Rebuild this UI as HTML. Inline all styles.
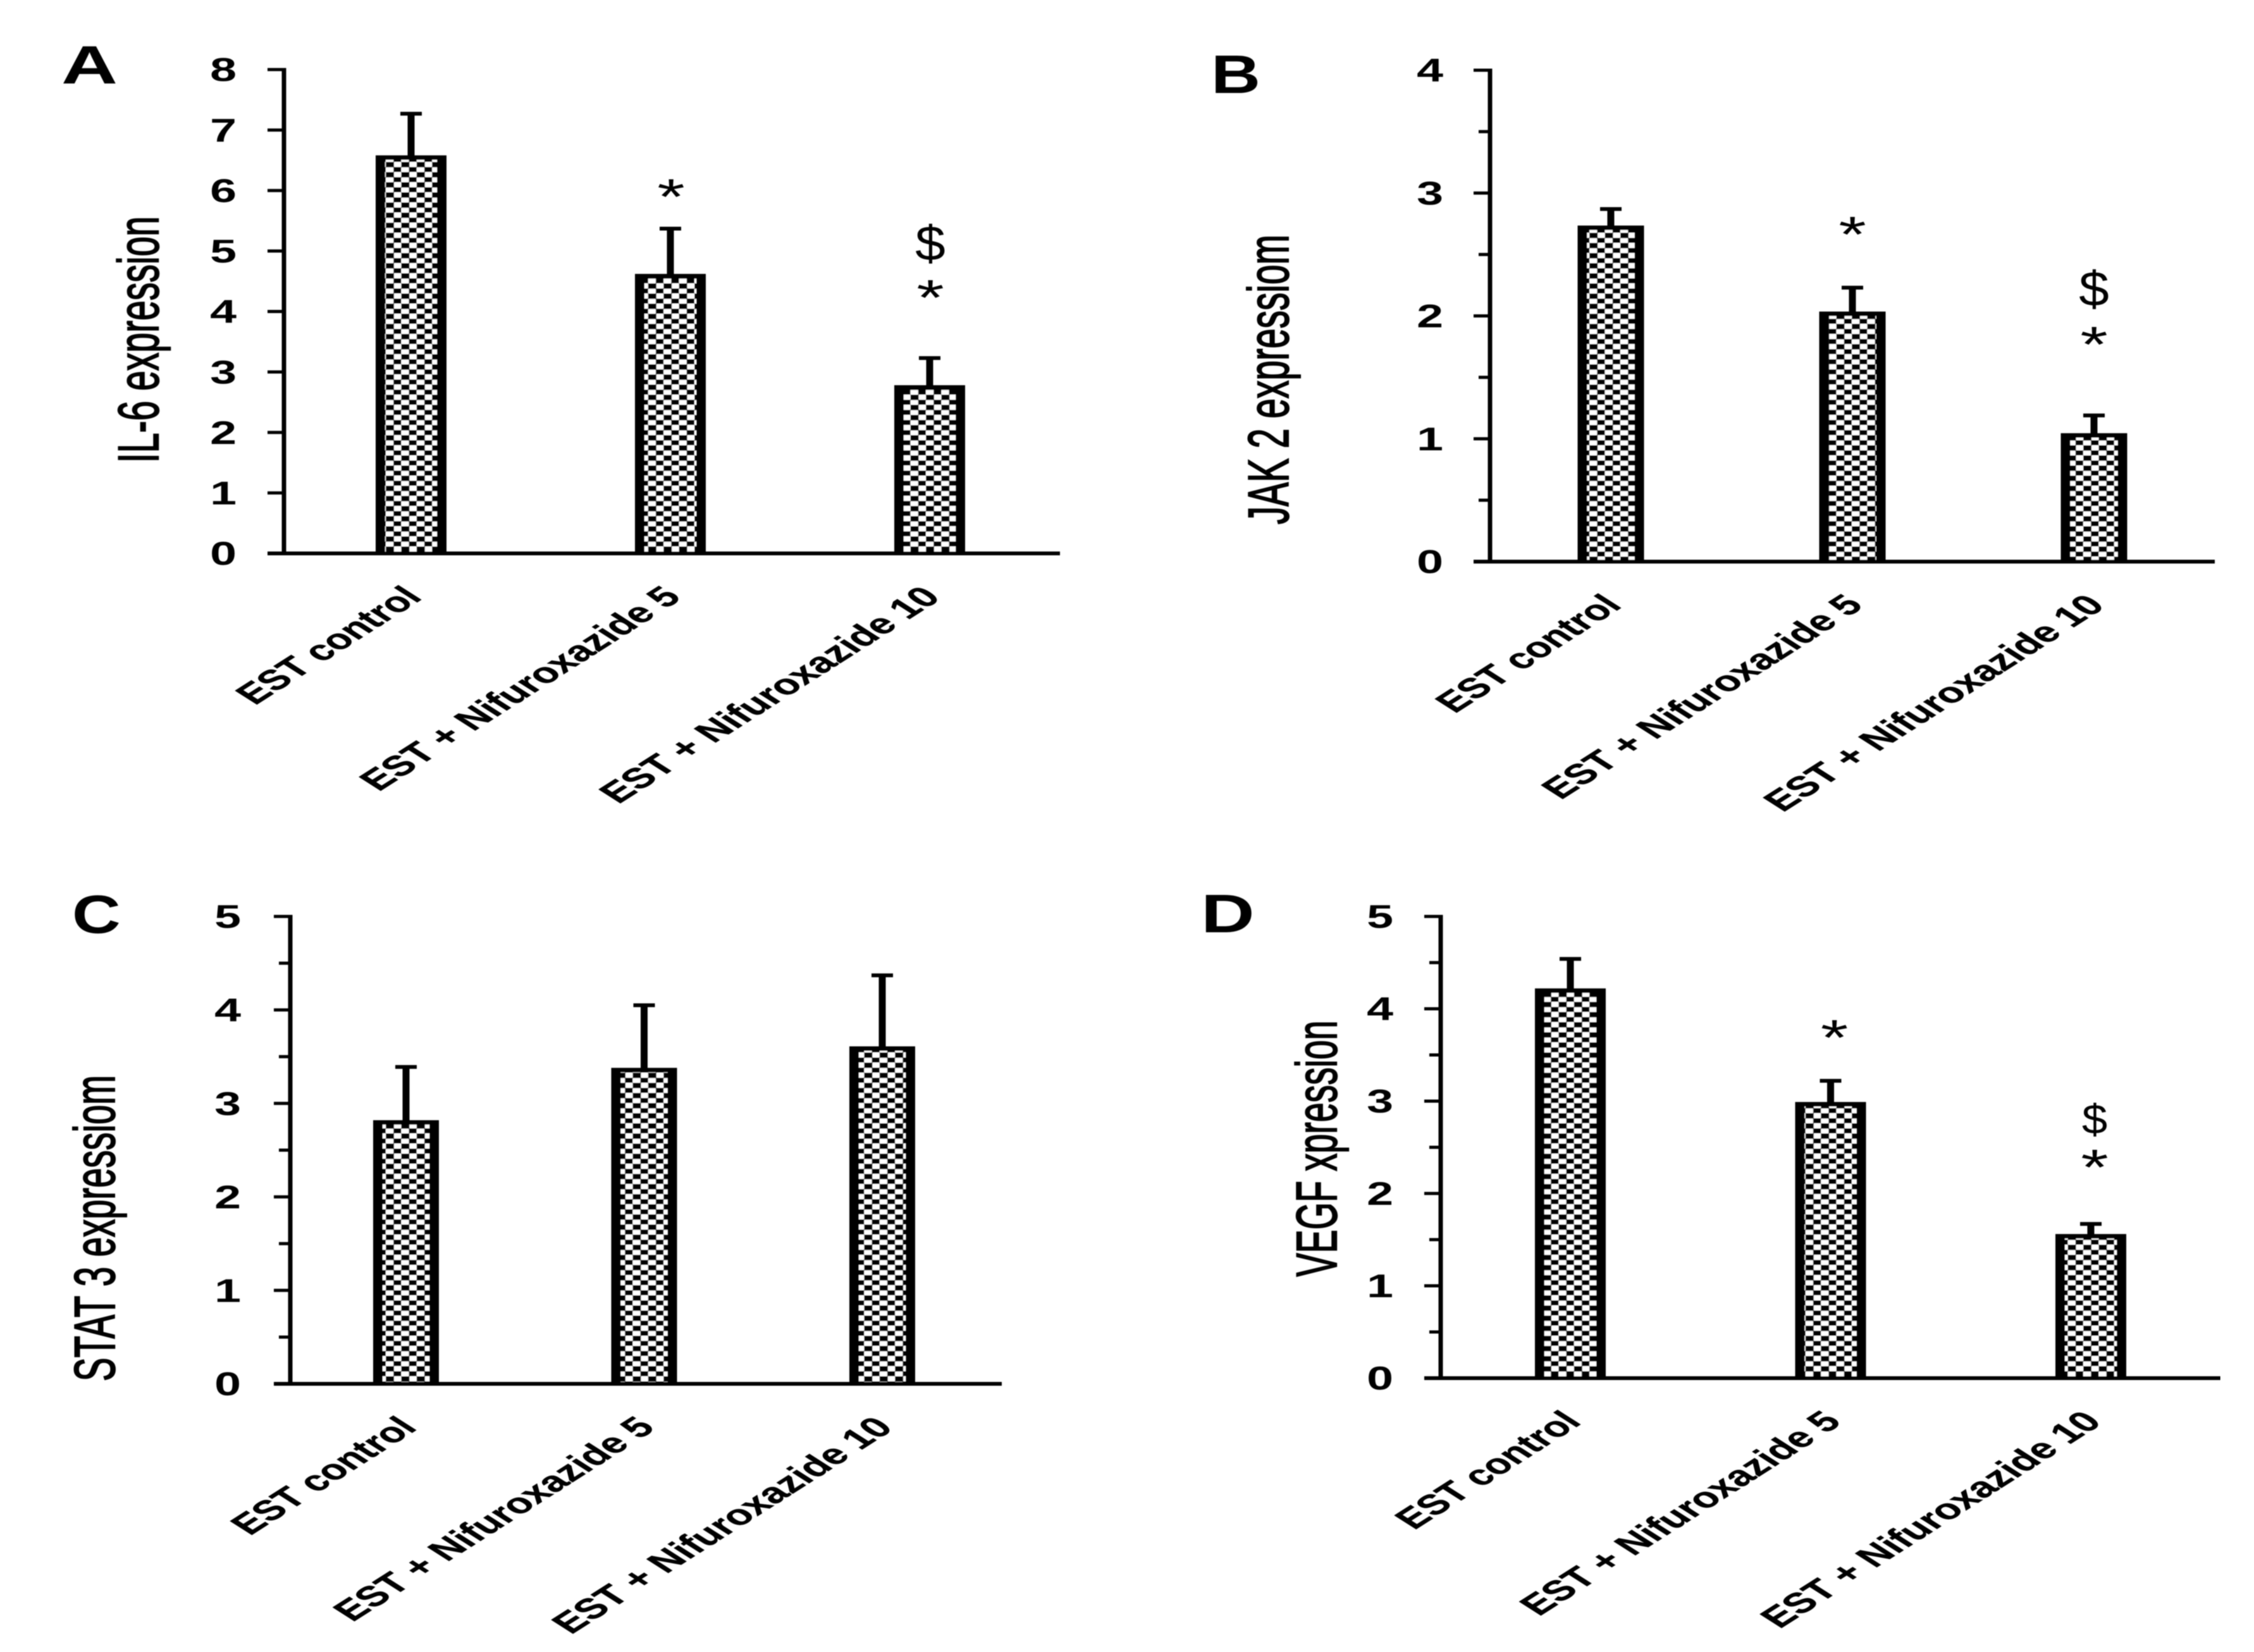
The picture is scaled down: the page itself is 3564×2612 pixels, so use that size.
<!DOCTYPE html>
<html lang="en">
<head>
<meta charset="utf-8">
<title>Expression bar charts</title>
<style>
  html, body { margin: 0; padding: 0; background: #fff; }
  svg { display: block; }
  text { font-family: "Liberation Sans", sans-serif; fill: #000; }
</style>
</head>
<body>
<svg id="figure" xmlns="http://www.w3.org/2000/svg" width="3564" height="2612" viewBox="0 0 3564 2612">
  <defs>
    <pattern id="checker" patternUnits="userSpaceOnUse" width="24.4" height="16">
      <rect width="24.4" height="16" fill="#fff"/>
      <rect x="0" y="0" width="13" height="8.6" fill="#000"/>
      <rect x="12.2" y="8" width="13" height="8.6" fill="#000"/>
    </pattern>
    <filter id="soft" x="0" y="0" width="100%" height="100%">
      <feGaussianBlur stdDeviation="0.8"/>
    </filter>
  </defs>
  <rect width="3564" height="2612" fill="#fff"/>
  <g id="root" filter="url(#soft)"></g>
</svg>
<script>
const categories = ['EST control', 'EST + Nifuroxazide 5', 'EST + Nifuroxazide 10'];

const il6Values = [6.55, 4.59, 2.75];
const il6Errors = [0.72, 0.78, 0.48];
const il6Ticks = [0, 1, 2, 3, 4, 5, 6, 7, 8];
const il6Stars = ['', '*', '*'];
const il6Dollars = ['', '', '$'];

const jak2Values = [2.72, 2.02, 1.03];
const jak2Errors = [0.15, 0.21, 0.16];
const jak2Ticks = [0, 1, 2, 3, 4];
const jak2Stars = ['', '*', '*'];
const jak2Dollars = ['', '', '$'];

const stat3Values = [2.80, 3.36, 3.59];
const stat3Errors = [0.59, 0.69, 0.78];
const stat3Ticks = [0, 1, 2, 3, 4, 5];
const stat3Stars = ['', '', ''];
const stat3Dollars = ['', '', ''];

const vegfValues = [4.20, 2.97, 1.54];
const vegfErrors = [0.34, 0.25, 0.13];
const vegfTicks = [0, 1, 2, 3, 4, 5];
const vegfStars = ['', '*', '*'];
const vegfDollars = ['', '', '$'];

const SVG_NS = 'http://www.w3.org/2000/svg';
const STRETCH = 1.57;
const root = document.getElementById('root');

function node(parent, tag, attrs) {
  const el = document.createElementNS(SVG_NS, tag);
  for (const key in attrs) el.setAttribute(key, attrs[key]);
  parent.appendChild(el);
  return el;
}

function labelLength(text) {
  if (text.endsWith('10')) return 461;
  if (text.endsWith('5')) return 433;
  return 240;
}

function drawPanel(p) {
  const yScale = v => p.y0 - (v / p.yMax) * (p.y0 - p.yTop);
  const xScale = i => p.x0 + i * p.step;

  const panel = node(root, 'g', {});
  
  

  const letter = node(panel, 'text', {
    transform: `translate(${p.letterX},${p.letterY}) scale(${p.letterScale},1)`,
    'font-size': 85, 'font-weight': 'bold'
  });
  letter.textContent = p.letter;
  
  

  const title = node(panel, 'text', {
    transform: `translate(${p.titleX},${p.titleY}) scale(${STRETCH},1) rotate(-90)`,
    'font-size': 58, 'text-anchor': 'middle', stroke: '#000', 'stroke-width': 1.3,
    textLength: p.titleLen, lengthAdjust: 'spacingAndGlyphs'
  });
  title.textContent = p.title;
  
  

  p.values.forEach((value, i) => {
    const cx = xScale(i);
    const top = yScale(value);
    const errTop = yScale(value + p.errors[i]);
    const barGroup = node(panel, 'g', {});
    
    
    node(barGroup, 'rect', { x: cx - 5.5, y: errTop, width: 11, height: top - errTop, fill: '#000' });
    node(barGroup, 'rect', { x: cx - 17, y: errTop - 3, width: 34, height: 6, fill: '#000' });
    node(barGroup, 'rect', { x: cx - p.barW / 2, y: top - 3, width: p.barW, height: p.y0 - top + 3, fill: '#000' });
    node(barGroup, 'rect', {
      x: cx - p.barW / 2 + 15, y: top + 4, width: p.barW - 30,
      height: Math.max(0, p.y0 - top - 4), fill: 'url(#checker)'
    });

    if (p.stars[i]) {
      const star = node(panel, 'text', {
        transform: `translate(${cx + p.markDx},${errTop - p.starGap[i] + 37}) scale(1.4,1)`,
        'font-size': 80, 'text-anchor': 'middle'
      });
      star.textContent = p.stars[i];
      
      
    }
    if (p.dollars[i]) {
      const dollar = node(panel, 'text', {
        transform: `translate(${cx + p.markDx},${errTop - p.dollarGap[i] + p.dollarSize * 0.34}) scale(1.1,1)`,
        'font-size': p.dollarSize, 'text-anchor': 'middle'
      });
      dollar.textContent = p.dollars[i];
      
      
    }

    const label = node(panel, 'text', {
      transform: `translate(${cx + 2},${p.y0 + 60}) scale(${STRETCH},1) rotate(-45)`,
      'font-size': 45, 'font-weight': 'bold', 'text-anchor': 'end', dy: '0.35em',
      stroke: '#000', 'stroke-width': 0.5,
      textLength: labelLength(categories[i]), lengthAdjust: 'spacingAndGlyphs'
    });
    label.textContent = categories[i];
    
    
  });

  const yAxis = node(panel, 'rect', {
    x: p.axisX - 3.5, y: p.yTop - 2.5, width: 7, height: p.y0 - p.yTop + 5, fill: '#000'
  });
  
  

  const xAxis = node(panel, 'rect', {
    x: p.axisX - 26, y: p.y0 - 3, width: p.axisRight - p.axisX + 26, height: 6, fill: '#000'
  });
  
  

  p.ticks.forEach((t, i) => {
    const y = yScale(t);
    const tick = node(panel, 'rect', { x: p.axisX - 26, y: y - 2.5, width: 26, height: 5, fill: '#000' });
    
    

    const tickLabel = node(panel, 'text', {
      transform: `translate(${p.tickLabelX},${y}) scale(1.45,1)`,
      'font-size': 52, 'font-weight': 'bold', 'text-anchor': 'end', dy: '0.35em'
    });
    tickLabel.textContent = t;
    
    

    if (p.minor && i < p.ticks.length - 1) {
      const minorTick = node(panel, 'rect', {
        x: p.axisX - 18, y: yScale((t + p.ticks[i + 1]) / 2) - 2.5, width: 18, height: 5, fill: '#000'
      });
      
      
    }
  });
}

drawPanel({
  id: 'il6', letter: 'A', letterX: 97, letterY: 132, letterScale: 1.45,
  title: 'IL-6 expression', titleX: 250, titleY: 537, titleLen: 390,
  values: il6Values, errors: il6Errors, ticks: il6Ticks, stars: il6Stars, dollars: il6Dollars,
  yMax: 8, y0: 875, yTop: 110, axisX: 449, axisRight: 1676, tickLabelX: 374,
  x0: 650, step: 410, barW: 112, minor: false, markDx: 1,
  starGap: [0, 60, 105], dollarGap: [0, 0, 181], dollarSize: 78
});
drawPanel({
  id: 'jak2', letter: 'B', letterX: 1915, letterY: 147, letterScale: 1.27,
  title: 'JAK 2 expressiom', titleX: 2037, titleY: 600, titleLen: 458,
  values: jak2Values, errors: jak2Errors, ticks: jak2Ticks, stars: jak2Stars, dollars: jak2Dollars,
  yMax: 4, y0: 888, yTop: 111, axisX: 2356, axisRight: 3502, tickLabelX: 2282,
  x0: 2547, step: 382, barW: 105, minor: true, markDx: 0,
  starGap: [0, 94, 122], dollarGap: [0, 0, 200], dollarSize: 78
});
drawPanel({
  id: 'stat3', letter: 'C', letterX: 114, letterY: 1475, letterScale: 1.25,
  title: 'STAT 3 expressiom', titleX: 181, titleY: 1942, titleLen: 484,
  values: stat3Values, errors: stat3Errors, ticks: stat3Ticks, stars: stat3Stars, dollars: stat3Dollars,
  yMax: 5, y0: 2188, yTop: 1449, axisX: 459, axisRight: 1584, tickLabelX: 381,
  x0: 642, step: 376.5, barW: 104, minor: true, markDx: 0,
  starGap: [0, 0, 0], dollarGap: [0, 0, 0], dollarSize: 78
});
drawPanel({
  id: 'vegf', letter: 'D', letterX: 1899, letterY: 1474, letterScale: 1.38,
  title: 'VEGF xpression', titleX: 2113, titleY: 1816, titleLen: 405,
  values: vegfValues, errors: vegfErrors, ticks: vegfTicks, stars: vegfStars, dollars: vegfDollars,
  yMax: 5, y0: 2179, yTop: 1449, axisX: 2278, axisRight: 3511, tickLabelX: 2203,
  x0: 2483, step: 411.5, barW: 112, minor: true, markDx: 6,
  starGap: [0, 78, 99], dollarGap: [0, 0, 165], dollarSize: 66
});
</script>
</body>
</html>
